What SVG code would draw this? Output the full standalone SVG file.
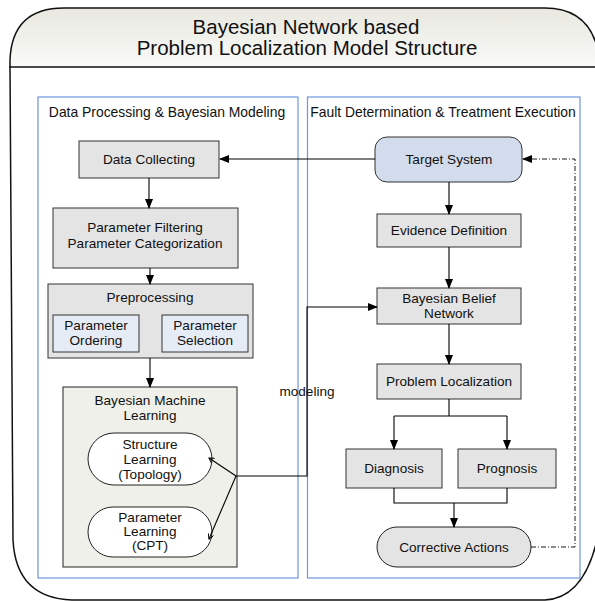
<svg xmlns="http://www.w3.org/2000/svg" width="595" height="601" viewBox="0 0 595 601">
<defs>
<linearGradient id="hdr" x1="0" y1="0" x2="0" y2="1"><stop offset="0" stop-color="#e8e8e0"/><stop offset="1" stop-color="#fafaf8"/></linearGradient>
<marker id="ah" markerWidth="10" markerHeight="8" refX="9" refY="4" orient="auto" markerUnits="userSpaceOnUse"><path d="M0,0 L10,4 L0,8 Z" fill="#000"/></marker>
<marker id="sa" markerWidth="6" markerHeight="6" refX="5" refY="3" orient="auto" markerUnits="userSpaceOnUse"><path d="M0,0 L5,3 L0,6" fill="none" stroke="#000" stroke-width="1"/></marker>
</defs>
<style>
text{font-family:"Liberation Sans",Arial,sans-serif;font-size:13.6px;fill:#111;text-anchor:middle;dominant-baseline:central}
.box{fill:#e4e4e4;stroke:#333;stroke-width:1}
.inner{fill:#e6ecf6;stroke:#333;stroke-width:1}
.pill{fill:#fff;stroke:#222;stroke-width:1}
.panel{fill:none;stroke:#6f96d8;stroke-width:1.2}
.ln{fill:none;stroke:#000;stroke-width:1.1}
.title{font-size:20.5px}
.plabel{font-size:13.9px}
</style>
<rect width="595" height="601" fill="#fff"/>
<g id="frame">
<path d="M10,67 V60 Q12,8 64,8 H545 Q588,8 598,50 V67 Z" fill="url(#hdr)" stroke="none"/>
<path d="M10,67 V60 Q12,8 64,8 H545 Q588,8 598,50" fill="none" stroke="#111" stroke-width="1.5"/>
<path d="M9,67 H598" stroke="#111" stroke-width="1.5"/>
<path d="M10,67 L13,540 Q16,598 72,600 H545 Q588,598 600,525" fill="none" stroke="#111" stroke-width="1.5"/>
<text class="title" x="306" y="26">Bayesian Network based</text>
<text class="title" x="307" y="47">Problem Localization Model Structure</text>
</g>
<g id="panel-left">
<rect class="panel" x="38" y="97" width="260" height="481"/>
<text class="plabel" x="167" y="112">Data Processing &amp; Bayesian Modeling</text>
</g>
<g id="panel-right">
<rect class="panel" x="307.5" y="97" width="272.5" height="481"/>
<text class="plabel" x="443" y="112">Fault Determination &amp; Treatment Execution</text>
</g>
<g id="data-collecting">
<rect class="box" x="79" y="141" width="140" height="37"/>
<text x="149" y="159">Data Collecting</text>
</g>
<g id="param-filter">
<rect class="box" x="53" y="208" width="185" height="60"/>
<text x="145" y="227">Parameter Filtering</text>
<text x="145" y="243">Parameter Categorization</text>
</g>
<g id="preprocessing">
<rect class="box" x="48" y="284" width="205" height="74"/>
<text x="150" y="297">Preprocessing</text>
</g>
<g id="param-ordering">
<rect class="inner" x="53" y="315" width="86" height="37"/>
<text x="96" y="325">Parameter</text>
<text x="96" y="340">Ordering</text>
</g>
<g id="param-selection">
<rect class="inner" x="162" y="315" width="86" height="37"/>
<text x="205" y="325">Parameter</text>
<text x="205" y="340">Selection</text>
</g>
<g id="bml">
<rect x="63" y="387" width="174" height="180" fill="#f0f0ea" stroke="#222" stroke-width="1"/>
<text x="150" y="400">Bayesian Machine</text>
<text x="150" y="415">Learning</text>
</g>
<g id="structure-learning">
<rect class="pill" x="88" y="433" width="124" height="52" rx="26" ry="26"/>
<text x="150" y="444">Structure</text>
<text x="150" y="459">Learning</text>
<text x="150" y="474">(Topology)</text>
</g>
<g id="parameter-learning">
<rect class="pill" x="88" y="507" width="124" height="50" rx="25" ry="25"/>
<text x="150" y="517">Parameter</text>
<text x="150" y="531">Learning</text>
<text x="150" y="545">(CPT)</text>
</g>
<g id="target-system">
<rect x="375" y="137" width="147" height="45" rx="12" ry="12" fill="#d3dcec" stroke="#333" stroke-width="1"/>
<text x="449" y="159">Target  System</text>
</g>
<g id="evidence">
<rect class="box" x="377" y="214" width="144" height="33"/>
<text x="449" y="230">Evidence Definition</text>
</g>
<g id="bbn">
<rect class="box" x="377" y="288" width="144" height="36"/>
<text x="449" y="298">Bayesian Belief</text>
<text x="449" y="313">Network</text>
</g>
<g id="problem-localization">
<rect class="box" x="377" y="364" width="144" height="35"/>
<text x="449" y="381">Problem Localization</text>
</g>
<g id="diagnosis">
<rect class="box" x="346" y="449" width="96" height="39"/>
<text x="394" y="468">Diagnosis</text>
</g>
<g id="prognosis">
<rect class="box" x="458" y="449" width="98" height="39"/>
<text x="507" y="468">Prognosis</text>
</g>
<g id="corrective-actions">
<rect x="377" y="527" width="154" height="40" rx="20" ry="20" fill="#e4e4e4" stroke="#222" stroke-width="1"/>
<text x="454" y="547">Corrective Actions</text>
</g>
<g id="connectors">
<path class="ln" d="M375,159 H220" marker-end="url(#ah)"/>
<path class="ln" d="M149,178 V208" marker-end="url(#ah)"/>
<path class="ln" d="M150,268 V284" marker-end="url(#ah)"/>
<path class="ln" d="M150,358 V387" marker-end="url(#ah)"/>
<path class="ln" d="M449,182 V214" marker-end="url(#ah)"/>
<path class="ln" d="M449,247 V288" marker-end="url(#ah)"/>
<path class="ln" d="M449,324 V364" marker-end="url(#ah)"/>
<path class="ln" d="M449,399 V416 M394,416 H507"/>
<path class="ln" d="M394,416 V449" marker-end="url(#ah)"/>
<path class="ln" d="M507,416 V449" marker-end="url(#ah)"/>
<path class="ln" d="M394,488 V503 H507 V488"/>
<path class="ln" d="M454,503 V527" marker-end="url(#ah)"/>
<path class="ln" d="M236,476 L209,458" marker-end="url(#sa)"/>
<path class="ln" d="M236,476 L209,539" marker-end="url(#sa)"/>
<path class="ln" d="M236,476 H307 V307 H377" marker-end="url(#ah)"/>
<path d="M531,547 H575 V159 H523" fill="none" stroke="#000" stroke-width="0.9" stroke-dasharray="5,2,1,2" marker-end="url(#ah)"/>
<text x="307" y="391">modeling</text>
</g>
</svg>
